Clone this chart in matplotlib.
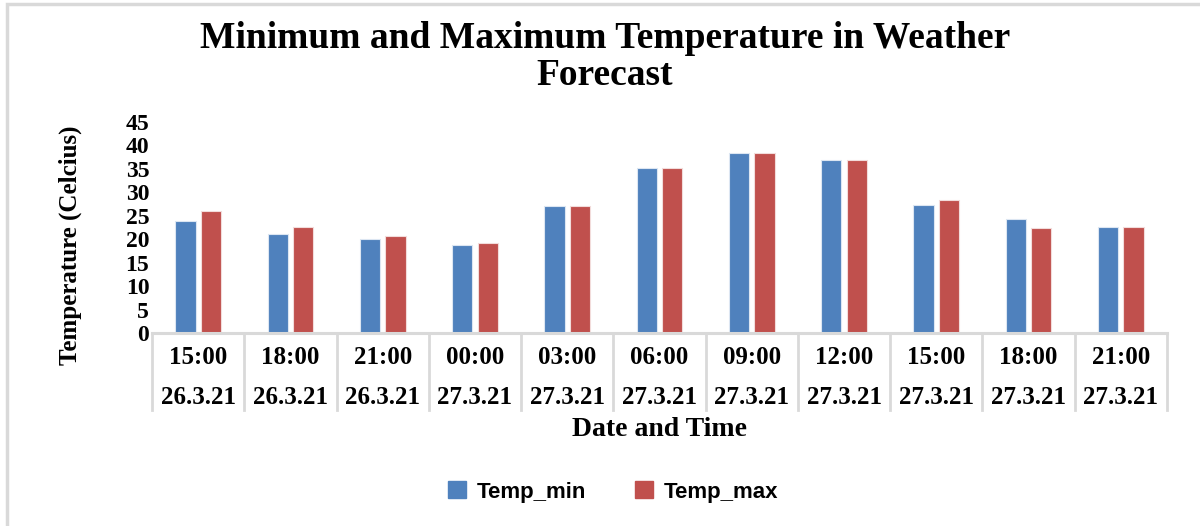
import matplotlib.pyplot as plt
import matplotlib.transforms as mtransforms
from matplotlib.patches import Rectangle
from matplotlib.lines import Line2D
import numpy as np

# data
times = ['15:00', '18:00', '21:00', '00:00', '03:00', '06:00',
         '09:00', '12:00', '15:00', '18:00', '21:00']
dates = ['26.3.21', '26.3.21', '26.3.21', '27.3.21', '27.3.21', '27.3.21',
         '27.3.21', '27.3.21', '27.3.21', '27.3.21', '27.3.21']
temp_min = [23.9, 21.1, 20.1, 18.8, 27.1, 35.3, 38.5, 36.8, 27.4, 24.4, 22.6]
temp_max = [26.1, 22.6, 20.6, 19.1, 27.1, 35.3, 38.5, 36.8, 28.3, 22.3, 22.6]
yticks = [0, 5, 10, 15, 20, 25, 30, 35, 40, 45]

blue = '#4F81BD'
red = '#C0504D'
grey = '#D9D9D9'
serif = 'Liberation Serif'
sans = 'Liberation Sans'

fig = plt.figure(figsize=(12, 5.26), dpi=100)
ax = fig.add_axes([0.1267, 0.3669, 0.9725 - 0.1267, 0.768 - 0.3669])

# outer chart border (right / bottom are cut off in the reference)
fig.patches.append(Rectangle((7 / 1200, -0.1), 1.2, 1 - 4 / 526 + 0.1,
                             transform=fig.transFigure, fill=False,
                             edgecolor=grey, linewidth=2.5, zorder=0))

x = np.arange(len(times))
w = 0.22
off = 0.138
ax.bar(x - off, temp_min, w, color=blue, edgecolor='#DCE6F2', linewidth=0.8, zorder=2)
ax.bar(x + off, temp_max, w, color=red, edgecolor='#F2DCDB', linewidth=0.8, zorder=2)

ax.set_xlim(-0.5, len(times) - 0.5)
ax.set_ylim(0, 45)
ax.set_yticks(yticks)
ax.set_yticklabels([str(v) for v in yticks], fontfamily=serif,
                   fontweight='bold', fontsize=17)
ax.tick_params(axis='y', length=0, pad=2)
ax.set_xticks([])
for s in ['top', 'right', 'left']:
    ax.spines[s].set_visible(False)
ax.spines['bottom'].set_color(grey)
ax.spines['bottom'].set_linewidth(2.2)

# multi-level category axis
trans = mtransforms.blended_transform_factory(ax.transData, ax.transAxes)
for b in np.arange(-0.5, len(times), 1.0):
    ax.add_line(Line2D([b, b], [0, -0.365], transform=trans, color=grey,
                       linewidth=2, clip_on=False))
for i in range(len(times)):
    ax.text(i, -0.118, times[i], transform=trans, ha='center', va='center',
            fontfamily=serif, fontweight='bold', fontsize=18)
    ax.text(i, -0.305, dates[i], transform=trans, ha='center', va='center',
            fontfamily=serif, fontweight='bold', fontsize=18)

fig.text(660 / 1200, 1 - 430 / 526, 'Date and Time', ha='center', va='center',
         fontfamily=serif, fontweight='bold', fontsize=20)
fig.text(70 / 1200, 1 - 245 / 526, 'Temperature (Celcius)', ha='center',
         va='center', rotation=90, fontfamily=serif, fontweight='bold',
         fontsize=18)
fig.text(605 / 1200, 1 - 57 / 526,
         'Minimum and Maximum Temperature in Weather\nForecast',
         ha='center', va='center', fontfamily=serif, fontweight='bold',
         fontsize=27, linespacing=1.05)

handles = [Rectangle((0, 0), 1, 1, color=blue), Rectangle((0, 0), 1, 1, color=red)]
fig.legend(handles, ['Temp_min', 'Temp_max'], loc='center',
           bbox_to_anchor=(613 / 1200, 1 - 492 / 526), ncol=2, frameon=False,
           prop={'family': sans, 'weight': 'bold', 'size': 16},
           handlelength=0.8, handleheight=0.8, columnspacing=2.2,
           handletextpad=0.5)

fig.savefig('out.png', dpi=100)
